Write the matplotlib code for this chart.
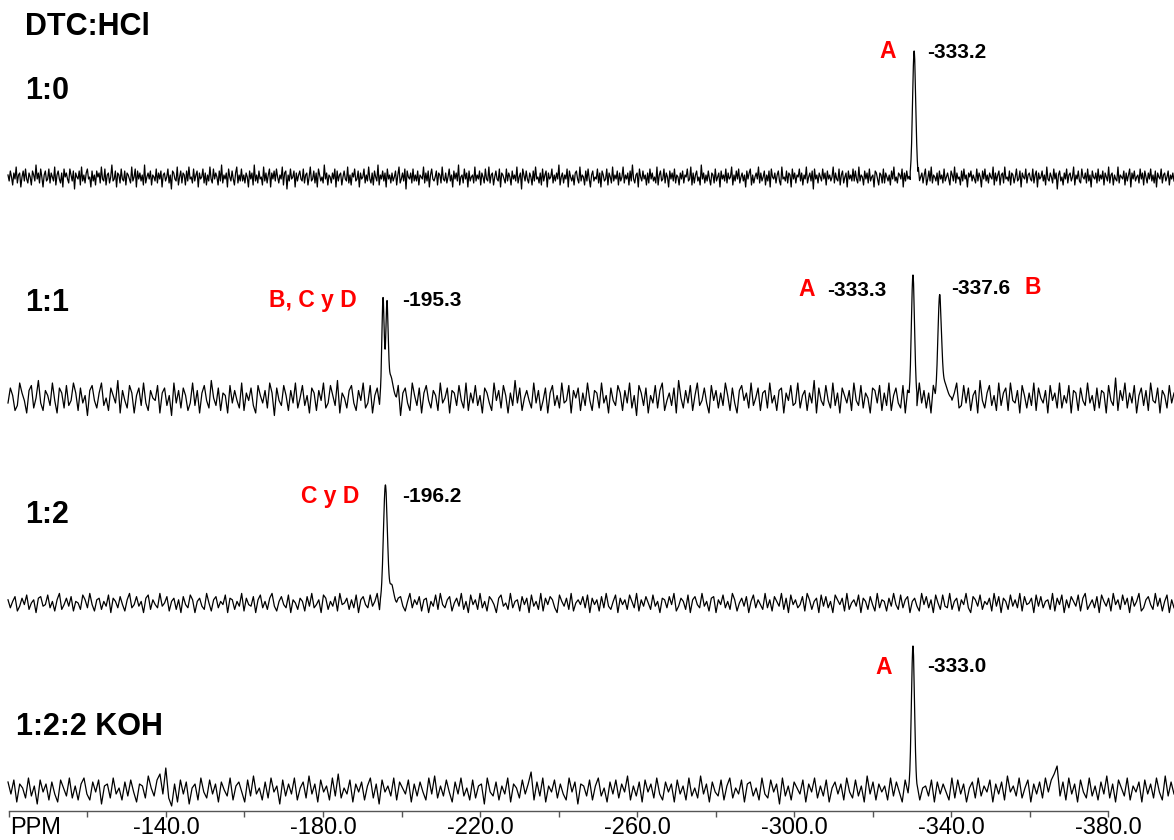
import numpy as np
import matplotlib
matplotlib.use("Agg")
import matplotlib.pyplot as plt

# ---------------- data ----------------
X_LEFT, X_RIGHT = -99.75, -396.8          # ppm span of the recorded traces
tick_major = [-140, -180, -220, -260, -300, -340, -380]
tick_minor = [-100, -120, -160, -200, -240, -280, -320, -360]
tick_labels = ["-140.0", "-180.0", "-220.0", "-260.0", "-300.0", "-340.0", "-380.0"]

# baseline noise (arbitrary units)
noise_1_0 = [
 1,-2,3,0,-4,2,-1,5,-3,1,2,-5,0,3,-2,4,-1,-3,2,0,-4,3,1,-2,6,
 -1,2,-3,4,0,-5,1,3,-2,-1,4,-3,2,0,-2,5,-4,1,3,-1,-3,2,-5,4,0,
 2,-1,-3,4,1,-2,3,-6,2,0,-1,3,-4,5,-2,1,-3,2,4,-1,0,-5,3,-2,1,
 -4,3,0,2,-3,5,-1,-2,4,-4,1,2,-3,0,6,-2,-1,3,-5,2,1,-3,4,-1,-2,
 3,-4,2,1,-1,-3,5,-2,0,4,-5,3,-1,2,-2,1,-4,6,-3,0,2,-1,3,-4,1,
 0,-2,4,-3,2,-1,3,-5,1,2,-2,0,4,-3,1,-6,3,2,-1,-2,5,-4,0,3,-3,
 2,1,-4,3,-2,5,-1,0,-3,4,-2,1,3,-5,2,-1,0,4,-3,2,-4,1,-2,5,-1,
 -3,4,-1,2,0,-4,3,-2,6,-3,1,-1,2,-5,4,0,-2,3,-1,-4,2,5,-3,1,-2,
 4,-2,1,-3,2,0,-5,3,-1,2,-4,6,-2,1,-3,3,-1,0,-4,5,-2,2,-3,1,4,
 -5,2,-1,3,-2,4,0,-3,1,-1,5,-4,2,3,-6,1,-2,4,-1,0,3,-5,2,-2,1,
 3,-1,-2,4,-3,1,2,-4,0,5,-2,-1,3,-3,2,-5,4,1,-2,0,-3,6,-1,2,-4,
 1,0,-3,2,-1,4,-5,3,-2,1,2,-4,0,3,-1,-2,5,-3,1,-4,2,0,4,-2,-1,
 3,-5,2,-1,0,4,-3,1,-2,5,-1,-3,2,-4,3,0,-2,6,-4,1,-1,3,-2,2,-5,
 4,-1,1,-3,2,-2,0,3,-4,1,5,-3,-1,2,-2,4,-6,3,0,-1,2,-3,4,-2,1,
 -2,3,-4,1,0,-1,5,-3,2,-2,3,-5,1,4,-1,-2,0,3,-4,2,1,-3,5,-1,-2,
 2,-3,0,4,-2,1,-5,3,-1,2,-2,6,-4,0,1,-3,4,-1,2,-5,3,-2,0,1,-3,
 5,-2,1,-1,3,-4,2,0,-3,4,-1,-2,5,-3,1,2,-4,0,3,-1,-2,4,-5,2,1,
 -1,-3,4,-2,2,0,-4,3,-1,1,-2,5,-3,0,2,-6,4,1,-2,3,-1,-3,2,0,-4,
 3,-2,5,-1,0,-3,2,-4,4,-2,1,3,-5,2,-1,0,4,-3,1,-2,2,-1,6,-4,0,
 2,-3,1,-1,4,-5,3,0,-2,1,-4,2,3,-1,-3,5,-2,1,0,-4,3,-2,4,-1,-5,
 1,3,-2,0,-1,4,-3,2,-5,3,1,-2,-1,4,-4,2,0,-3,5,-2,1,-1,3,-4,2,
 -2,0,5,-3,1,-1,2,-4,3,-2,6,-1,-3,1,2,-5,4,0,-2,3,-1,1,-4,2,-3,
 4,-1,2,-2,0,-3,5,-4,1,3,-2,-1,4,-3,2,0,-5,3,-1,2,-2,4,-3,1,0,
 -4,2,-1,3,-3,1,0,4,-2,-1,5,-4,2,-3,1,3,-2,0,-4,6,-1,2,-3,1,-2,
 3,-1,-4,2,1,-3,4,-2,0,2,-5,3,-1,1,-2,4,-3,2,-1,0,5,-4,1,-2,3,
 -1,4,-3,0,2,-2,1,-5,3,-1,2,4,-4,1,-3,0,2,-1,5,-3,2,-2,0,3,-4,
 1,-2,3,-5,4,0,-1,2,-3,1,3,-2,-4,5,-1,0,-2,3,-3,2,1,-5,4,-1,2,
 -3,1,0,4,-2,2,-4,1,-1,5,-3,0,2,-2,3,-6,4,-1,1,-3,2,0,-2,4,-1,
 2,-4,3,-1,1,-2,0,5,-3,2,-1,-2,4,-4,1,3,-3,0,2,-5,3,-1,1,-2,4,
 -2,3,-1,-3,5,-2,1,0,-4,3,-1,2,-3,4,-2,0,1,-5,3,2,-1,-4,2,1,-3,
 4,-3,2,0,-2,1,-4,3,-1,5,-2,0,-3,2,1,-1,4,-5,2,-2,3,-1,0,-4,3,
 -1,2,-5,4,-1,3,-2,0,2,-3,1,4,-4,-1,3,-2,5,-3,1,0,-2,2,-4,3,-1,
 1,-3,4,-2,0,2,-1,-4,3,1,-2,5,-3,2,-1,0,-4,3,-2,4,-1,1,-5,2,0,
 3,-2,1,-1,-3,4,-2,2,0,-5,3,-1,4,-2,1,-3,2,0,-1,5,-4,2,-2,1,3,
 -4,1,2,-3,5,-1,0,-2,3,-4,2,1,-3,0,4,-2,-1,3,-5,2,0,-1,4,-3,1,
 2,-1,-2,4,-3,1,3,-5,2,-1,0,3,-2,1,-4,5,-1,-2,2,0,-3,4,-1,2,-6,
 1,3,-2,0,-4,2,-1,4,-3,1,2,-2,0,5,-4,1,-1,3,-2,-3,4,0,-1,2,-3,
 4,-2,1,-5,3,0,-1,2,-3,4,-2,1,-1,3,-4,2,0,-2,5,-3,1,2,-4,1,-1,
 -2,5,-3,1,0,-1,3,-4,2,-2,1,4,-5,2,-1,3,-2,0,1,-3,4,-1,2,-4,3,
 0,-3,2,-1,4,-2,1,-3,3,-5,2,0,-1,4,-3,1,2,-2,0,3,-4,1,-1,2,-2]

noise_1_1 = [
 -2,4,1,-5,-3,6,2,-1,-6,3,5,-4,0,7,-2,-5,3,1,-3,6,-1,-6,4,2,-4,
 5,-3,-1,6,2,-5,4,-2,1,-7,3,5,-1,-4,2,6,-3,0,-5,4,1,-2,7,-6,3,
 -1,-4,5,2,-6,1,4,-3,6,-2,-5,3,0,-1,5,-6,2,4,-3,1,-7,6,-2,3,-4,
 4,1,-5,-2,6,-3,3,-6,2,5,-1,-4,7,0,-3,4,-5,2,1,-6,5,-2,3,-1,-4,
 6,-5,2,-1,4,-3,-6,5,1,-2,3,-4,6,2,-7,4,-1,-3,5,1,-5,3,-2,6,-4,
 0,5,-3,1,-6,4,2,-5,3,-1,6,-4,-2,5,1,-3,7,-6,2,0,-4,3,5,-2,-5,
 3,-1,6,-4,-2,5,-6,1,4,-3,2,-5,6,0,-4,3,-1,5,-7,2,4,-2,-5,6,1,
 -3,4,-6,2,5,-1,-4,3,1,-5,6,-2,0,4,-6,3,2,-3,5,-1,-4,6,-5,2,-2,
 5,-3,1,-6,4,2,-2,-5,6,-1,3,-4,5,1,-6,2,-3,7,-2,4,-5,0,3,-1,-4,
 6,-2,3,-5,-1,4,-6,2,5,-3,1,-4,6,-2,-1,5,-6,3,0,4,-5,2,-3,6,-1,
 -5,3,2,-4,6,-2,1,-6,4,-1,-3,5,2,-5,3,-2,6,-4,1,-7,5,2,-3,4,-6,
 1,-2,5,-4,3,6,-5,-1,2,-3,4,-6,7,0,-4,3,-2,5,-5,1,6,-3,-1,4,-2,
 -6,5,-1,3,-4,2,-3,6,1,-5,4,-2,-6,3,5,-1,2,-4,6,-3,0,4,-5,2,3,
 -4,6,-2,1,-5,3,4,-6,2,-1,5,-3,-2,6,-4,1,3,-5,2,-2,7,-6,4,-1,-3,
 5,-1,-4,6,-3,2,-6,4,1,-2,3,-5,6,-1,-3,5,-4,2,0,-6,4,3,-2,5,-5,
 2,-3,6,-5,1,4,-2,-4,5,-6,3,1,-1,4,-5,6,-2,3,-4,2,-6,5,1,-3,4,
 -2,5,-6,3,-1,2,6,-4,-3,5,-2,4,-5,1,3,-6,7,-1,-4,2,5,-3,1,-5,6,
 -3,2,4,-5,6,-1,-2,3,-6,5,1,-4,2,-3,6,-5,4,0,-2,3,-6,5,-1,2,-4,
 6,-4,1,-2,5,-6,3,2,-5,4,-1,-3,6,-2,1,-5,4,-4,3,2,-6,5,-1,-3,8,
 -5,3,-1,6,-4,2,-2,5,-6,1,4,-3,3,-5,6,-1,-2,4,-6,3,1,-4,5,-2,2]

noise_1_2 = [
 2,-3,1,4,-5,-2,3,-1,5,-4,0,2,-6,3,4,-2,-1,5,-3,1,-5,2,6,-4,-1,
 3,-2,4,-5,1,0,-4,5,2,-3,6,-1,-5,2,3,-4,1,-2,5,-6,3,1,-3,4,-1,
 -5,2,6,-3,-1,4,-2,1,-6,3,5,-4,2,-1,-3,6,-2,0,4,-5,1,3,-4,2,-6,
 4,-1,-3,5,2,-6,1,3,-2,-4,6,0,-5,2,4,-3,1,-1,5,-6,3,2,-4,1,-2,
 6,-5,3,-1,-2,4,-6,2,5,-3,1,-4,3,6,-2,-5,1,4,-1,-3,5,-6,2,0,-4,
 3,1,-5,4,-2,6,-3,-1,2,-6,5,3,-4,1,-2,4,-5,6,-1,0,3,-4,2,-3,5,
 -6,2,4,-1,-3,5,-2,1,6,-5,3,-4,0,2,-1,5,-6,3,4,-2,-5,1,6,-3,2,
 -1,4,-5,2,3,-6,1,-2,5,-4,6,-1,-3,2,4,-5,0,3,-2,6,-4,1,-6,5,-1,
 2,-4,6,-3,1,-5,4,2,-1,-6,3,5,-2,0,-4,6,-3,1,2,-5,4,-1,3,-6,5,
 -2,1,-4,6,-5,3,-1,4,2,-3,-6,5,1,-2,3,-4,6,-5,0,2,-1,4,-3,5,-6,
 3,-1,2,-5,4,-3,6,-2,-4,1,5,-6,3,-1,2,-4,5,1,-3,6,-5,2,-2,4,0,
 -4,5,-2,1,-6,3,2,-3,4,-1,6,-5,-2,3,1,-4,5,-6,2,4,-1,-3,6,-2,1,
 -5,3,4,-6,2,-1,5,-3,1,-4,6,2,-5,0,3,-2,4,-6,1,5,-3,2,-1,-4,6,
 -3,2,-5,4,1,-2,6,-4,3,-6,5,-1,2,-3,-1,4,-5,6,2,-4,1,3,-6,5,-2,
 4,-3,1,-6,5,2,-1,3,-5,6,-4,0,2,-2,5,-6,3,1,-4,4,-1,-5,6,-3,2,
 1,-5,3,-2,6,-1,-4,5,-3,2,4,-6,1,3,-2,-5,6,-1,4,-3,2,-6,5,0,-4,
 5,-2,-3,6,-4,1,3,-5,2,-1,6,-3,-6,4,2,-2,5,-4,1,-1,3,-5,6,-2,4,
 -6,3,1,-4,5,-2,2,-3,6,-5,4,-1,0,3,-6,5,-2,4,-3,1,2,-4,6,-5,3,
 -1,5,-6,2,-3,4,1,-2,5,-5,3,6,-4,-1,2,-3,4,-6,5,1,-2,3,-5,6,-1,
 2,-4,5,-1,3,-6,4,-2,1,6,-5,-3,2,4,-1,-4,6,-2,3,-5,1,5,-6,2,-3]

noise_koh = [
 4,-2,5,-6,3,1,-4,6,-3,2,-7,5,-1,3,-5,4,-2,-6,5,1,-3,6,-4,2,-5,
 3,6,-2,-5,4,-1,5,-7,2,3,-4,6,-2,1,-5,4,-3,5,-1,-6,3,2,-4,7,1,
 -3,5,8,-2,11,-4,-8,3,-6,5,-2,4,-7,1,3,-5,6,-1,-4,5,-2,3,-6,4,0,
 -3,6,-5,2,4,-1,-6,5,-3,7,-2,1,-5,4,-4,6,-1,2,-7,5,-3,3,-2,6,-5,
 1,4,-4,7,-2,3,-6,5,-1,2,-5,6,-3,8,-4,1,-2,5,-6,3,-1,4,-5,2,6,
 -4,3,-7,5,-1,2,-3,6,-5,4,1,-2,5,-6,3,-3,4,-1,-5,6,-2,7,-4,2,-3,
 5,-1,-6,4,-2,6,-3,1,-5,5,-4,2,3,-7,6,-1,-3,4,-5,2,-2,6,-6,3,1,
 -4,5,-2,3,9,-5,4,-3,6,-6,2,-1,5,-4,3,-2,-5,6,-1,4,-7,3,2,-3,5,
 -5,2,6,-3,1,-6,4,-2,5,-4,3,-1,7,-5,2,-3,4,-6,5,-1,3,-4,6,-2,-5,
 4,-1,3,-6,5,-2,2,-5,6,-3,1,-4,7,-2,3,-6,4,-1,-3,5,-5,2,6,-4,1,
 -2,5,-6,3,4,-3,1,-5,6,-2,-4,5,-1,3,-7,6,-3,2,-5,4,1,-2,5,-6,3,
 -1,6,-4,2,-3,5,-6,1,4,-2,3,-5,6,-1,-4,5,-3,2,-6,7,-2,4,-5,3,-1,
 2,-5,6,-3,4,-1,-6,5,-2,3,-4,6,-5,1,2,-3,5,-6,4,-2,3,-1,-5,6,-4,
 5,-2,3,-6,1,4,-4,6,-3,2,-1,5,-6,3,-2,4,-5,7,-1,2,-3,6,-4,1,5,
 -6,3,-2,4,-4,6,-1,5,8,12,-3,4,-5,6,-2,3,-6,5,-1,-4,6,-3,2,-5,4,
 -2,7,-4,3,-6,5,1,-3,6,-5,2,-1,4,-6,5,-2,3,-4,6,-1,-5,7,-3,4,-2]

# peaks: (centre ppm, height, width sigma ppm)
peaks_1_0 = [(-330.6, 126, 0.40)]
peaks_1_1 = [(-195.3, 100, 0.30), (-196.3, 90, 0.30), (-197.2, 22, 0.60),
             (-330.3, 123, 0.40), (-337.1, 100, 0.45), (-338.3, 15, 0.70)]
peaks_1_2 = [(-195.9, 118, 0.50), (-197.5, 18, 0.50)]
peaks_koh = [(-330.3, 144, 0.40)]

traces = [  # (noise, noise scale, baseline offset, peaks)
    (noise_1_0, 2.0, -177, peaks_1_0),
    (noise_1_1, 2.5, -398, peaks_1_1),
    (noise_1_2, 1.6, -603, peaks_1_2),
    (noise_koh, 2.0, -790, peaks_koh),
]

sample_labels = ["DTC:HCl", "1:0", "1:1", "1:2", "1:2:2 KOH"]
peak_notes = [  # (text, is_letter)
    ("A", True), ("-333.2", False),
    ("B, C y D", True), ("-195.3", False),
    ("A", True), ("-333.3", False), ("-337.6", False), ("B", True),
    ("C y D", True), ("-196.2", False),
    ("A", True), ("-333.0", False),
]

# ---------------- drawing ----------------
W, H = 1174, 840
plt.rcParams["font.family"] = ["Liberation Sans", "DejaVu Sans"]
fig = plt.figure(figsize=(W / 100, H / 100), dpi=100)
ax = fig.add_axes([8 / W, 29 / H, 1166 / W, 811 / H])
ax.set_xlim(X_LEFT, X_RIGHT)
ax.set_ylim(-811, 0)


def build(noise, scale, base, peaks):
    xn = np.linspace(X_LEFT, X_RIGHT, len(noise))
    yn = np.asarray(noise, float) * scale
    keep = np.ones(len(xn), bool)
    for c, h, s in peaks:
        keep &= np.abs(xn - c) > 2.5 * s
    xs, ys = [xn[keep]], [yn[keep]]
    for c, h, s in peaks:
        xf = np.linspace(c - 2.5 * s, c + 2.5 * s, 41)
        xs.append(xf)
        ys.append(np.zeros_like(xf))
    x = np.concatenate(xs)
    y = np.concatenate(ys)
    o = np.argsort(x)
    x, y = x[o], y[o]
    for c, h, s in peaks:
        y = y + h * np.exp(-0.5 * ((x - c) / s) ** 2)
    return x, base + y


for noise, scale, base, peaks in traces:
    x, y = build(noise, scale, base, peaks)
    ax.plot(x, y, color="black", lw=0.9, clip_on=False)

for side in ("top", "left", "right"):
    ax.spines[side].set_visible(False)
ax.spines["bottom"].set_bounds(-100, -380)
ax.spines["bottom"].set_color("#555555")
ax.spines["bottom"].set_linewidth(1.0)
ax.set_yticks([])
ax.set_xticks(tick_major)
ax.set_xticklabels(tick_labels)
ax.set_xticks(tick_minor, minor=True)
ax.tick_params(axis="x", which="both", direction="out", length=4, width=1,
               color="#555555", labelsize=17, pad=0.5)
ax.patch.set_visible(False)

fig.text(10 / W, 1 - 828 / H, "PPM", fontsize=17, ha="left", va="center")

# sample labels (left x, centre y in pixels)
label_pos = [(25, 27), (25, 91), (25, 303), (25, 515), (16, 727)]
for s, (px, py) in zip(sample_labels, label_pos):
    fig.text(px / W, 1 - py / H, s, fontsize=22, fontweight="bold",
             ha="left", va="center")

note_pos = [(879, 52), (927, 52),
            (269, 300), (402, 300),
            (798, 290), (827, 291), (951, 288), (1025, 288),
            (301, 497), (402, 497),
            (875, 667), (927, 667)]
for (s, letter), (px, py) in zip(peak_notes, note_pos):
    fig.text(px / W, 1 - py / H, s, fontsize=16.5 if letter else 15,
             fontweight="bold", color="#ff0000" if letter else "black",
             ha="left", va="center")

fig.savefig("out.png", dpi=100)
